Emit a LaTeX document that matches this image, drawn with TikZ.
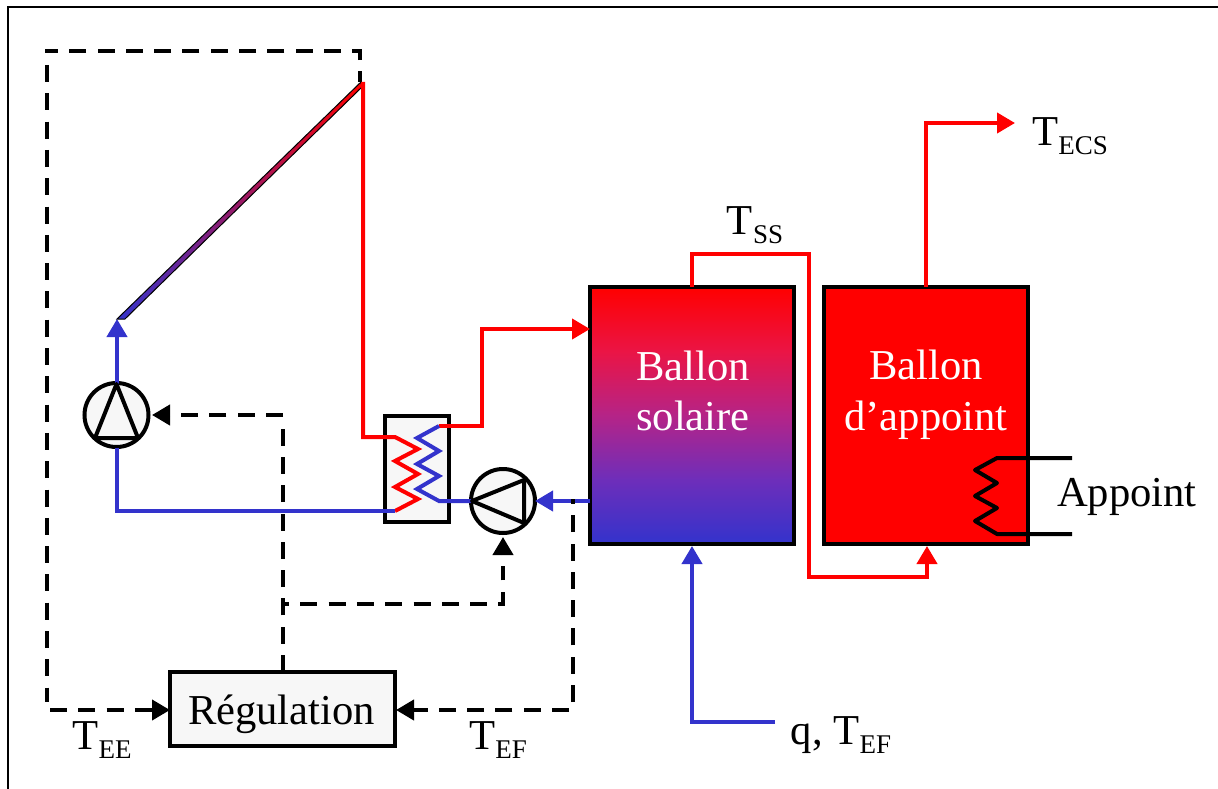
\documentclass[tikz,border=0pt]{standalone}
\usepackage{fontspec}
\setmainfont{Liberation Serif}
\usetikzlibrary{arrows.meta,calc}
\definecolor{hotred}{RGB}{255,0,0}
\definecolor{coldblue}{RGB}{51,51,204}
\definecolor{boxgray}{RGB}{247,247,247}
\pgfdeclareverticalshading{tankgrad}{100bp}{
  rgb(0bp)=(0.2,0.2,0.8);
  rgb(25bp)=(0.2,0.2,0.8);
  rgb(37.5bp)=(0.43,0.18,0.73);
  rgb(50bp)=(0.71,0.14,0.53);
  rgb(62.5bp)=(0.92,0.08,0.27);
  rgb(75bp)=(1,0,0);
  rgb(100bp)=(1,0,0)}
\newcommand{\Tsub}[1]{T\raisebox{-0.22em}{\fontsize{27}{27}\selectfont #1}}
\tikzset{
  x=1pt,y=-1pt,
  every node/.style={font=\fontsize{42.6}{50.5}\selectfont,inner sep=0pt,outer sep=0pt},
  tank/.style={draw=black,line width=4pt,minimum width=204pt,minimum height=257pt},
  tanktext/.style={align=center,text=white},
  graybox/.style={draw=black,line width=4pt,fill=boxgray},
  pumpc/.style={graybox,circle,minimum size=64pt},
  hot/.style={draw=hotred,line width=4pt},
  cold/.style={draw=coldblue,line width=4pt},
  ctrl/.style={draw=black,line width=4pt,dash pattern=on 17pt off 11.3pt},
  wire/.style={draw=black,line width=4pt,line join=round},
  hothead/.style={-{Triangle[length=18pt,width=20pt,color=hotred]}},
  coldhead/.style={-{Triangle[length=18pt,width=20pt,color=coldblue]}},
  ctrlhead/.style={draw=black,line width=4pt,-{Triangle[length=18pt,width=20pt,color=black]}},
}
\begin{document}
\begin{tikzpicture}
\useasboundingbox (0,0) rectangle (1218,789);
\draw[line width=2.2pt] (8,789) -- (8,7) -- (1218,7);
% nodes
\node[tank,shade,shading=tankgrad] (solaire) at (692,415.5) {};
\node[tanktext] (solairetxt) at (693,391) {Ballon\\solaire};
\node[tank,fill=hotred] (appoint) at (926,415.5) {};
\node[tanktext] (appointtxt) at (926,395) {Ballon\\d’appoint};
\node[graybox,minimum width=225pt,minimum height=74pt] (regul) at (282.5,709) {};
\node (regultxt) at (281.5,714) {Régulation};
\node[graybox,minimum width=64pt,minimum height=106pt] (hx) at (417,469) {};
\node[pumpc] (pumpA) at (116.5,415) {};
\node[pumpc] (pumpB) at (503,501) {};
\node (tee) at (102,740) {\Tsub{EE}};
\node (tef) at (498,740) {\Tsub{EF}};
\node (tss) at (755,225) {\Tsub{SS}};
\node (tecs) at (1070,136) {\Tsub{ECS}};
\node (qtef) at (841,735) {q, \Tsub{EF}};
\node (apptxt) at (1127,497) {Appoint};
% free ends
\coordinate (colBot) at (117,319);
\coordinate (colTop) at (361,82);
\coordinate (hxHotIn) at (395,437);
\coordinate (hxHotOut) at (395,511);
\coordinate (hxColdTop) at (439,426);
\coordinate (hxColdBot) at (439,501);
\coordinate (branch) at (283,604);
\coordinate (tapA) at (283,415);
\coordinate (inCold) at (775,722);
\coordinate (outEcs) at (1015,123);
\coordinate (solIn) at (590,329);
% control lines (under the pipes)
\draw[ctrl,dash phase=6.5pt] (360,82) -- (360,51) -- (45,51);
\draw[ctrl] (47,65) -- (47,702);
\draw[ctrl] (50,710) -- (150,710);
\draw[ctrlhead] (148,710) -- (regul.west |- 0,710);
\draw[ctrl] (regul.north -| tapA) -- (283,428);
\draw[ctrl] (tapA) -- (181,415);
\draw[ctrlhead] (170,415) -- (152,415);
\draw[ctrl,dash phase=11pt] (branch) -- (503,604) -- (503,566);
\draw[ctrlhead] (503,555) -- (503,537);
\draw[ctrl] (573,702) -- (573,513);
\draw[ctrl] (569,710) -- (414,710);
\draw[ctrlhead] (416,710) -- (396,710);
% collector
\shade[left color=coldblue,right color=hotred,draw=black,line width=1pt]
  (colBot) -- (125,319) -- (362,87) -- (colTop) -- cycle;
% hot pipes
\draw[hot,line join=miter] (363,82) -- (363,437) -- (hxHotIn)
  -- (418,449) -- (395,461) -- (418,474) -- (395,487) -- (418,499) -- (hxHotOut);
\draw[hot,hothead] (hxColdTop) -- (482,426) -- (482,329) -- (solIn);
\draw[hot,hothead] (solaire.north) -- (692,254) -- (809,254) -- (809,577) -- (927,577) -- (927,546);
\draw[hot,hothead] (appoint.north) -- (926,123) -- (outEcs);
% cold pipes
\draw[cold] (hxHotOut) -- (117,511) -- (117,448);
\draw[cold,coldhead] (117,384) -- (colBot);
\draw[cold] (hxColdTop) -- (417,438) -- (439,451) -- (417,464) -- (439,476) -- (417,489) -- (hxColdBot) -- (pumpB.west);
\draw[cold,coldhead] (solaire.west |- pumpB) -- (pumpB.east);
\draw[cold,coldhead] (inCold) -- (692,722) -- (692,546);
\draw[draw=black,line width=4pt] (573,499) -- (573,504);
% pump triangles
\draw[wire] (116.5,384) -- (95,438) -- (138,438) -- cycle;
\draw[wire] (472,501) -- (524,480) -- (524,523) -- cycle;
% heater
\draw[wire] (1072,458) -- (997,458) -- (975,470) -- (997,483) -- (975,496) -- (997,508) -- (975,521) -- (997,534) -- (1072,534);
\end{tikzpicture}
\end{document}
